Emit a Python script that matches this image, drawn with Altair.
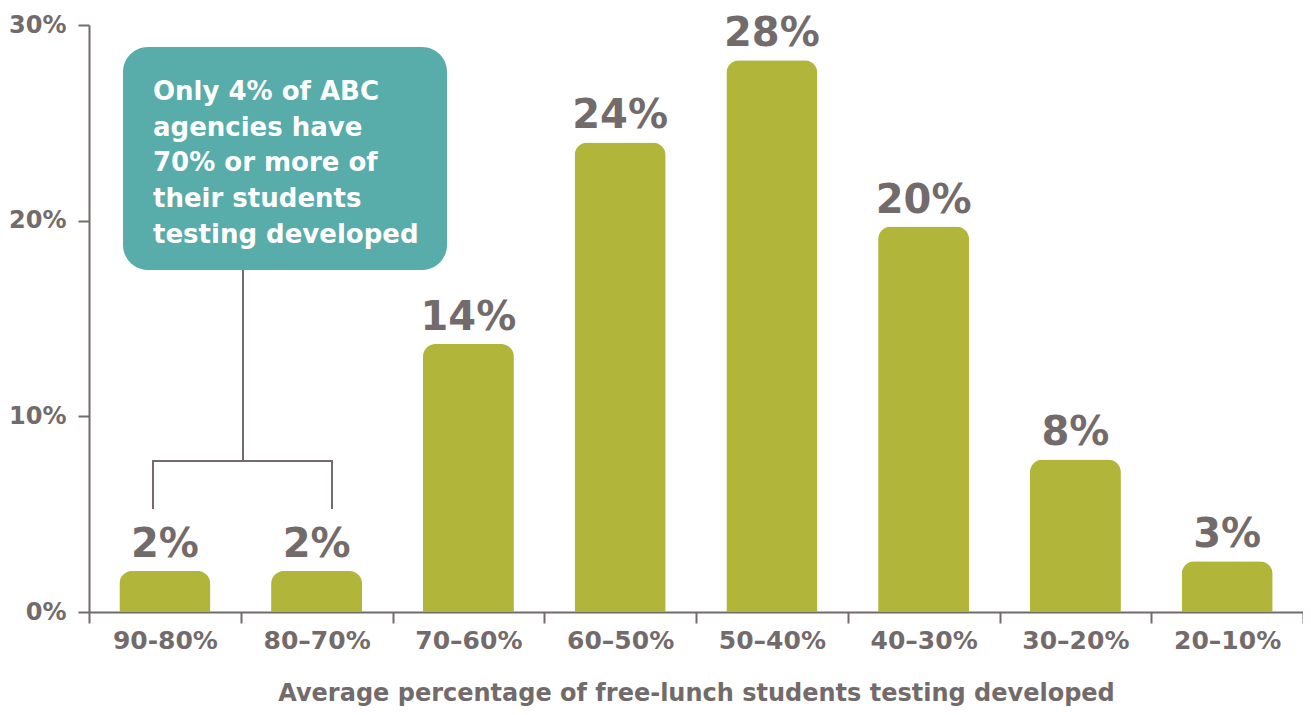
import altair as alt
import pandas as pd

categories = ["90-80%", "80–70%", "70–60%", "60–50%", "50–40%", "40–30%", "30–20%", "20–10%"]
values = [2.1, 2.1, 13.7, 24.0, 28.2, 19.7, 7.8, 2.6]
labels = ["2%", "2%", "14%", "24%", "28%", "20%", "8%", "3%"]
y_ticks = [0, 10, 20, 30]
note_lines = ["Only 4% of ABC", "agencies have", "70% or more of", "their students", "testing developed"]
x_title = "Average percentage of free-lunch students testing developed"

GRAY = "#736b6b"
OLIVE = "#b1b53a"
TEAL = "#58aca9"
FONT = "DejaVu Sans"

df = pd.DataFrame({"cat": categories, "val": values, "lab": labels})

x_enc = alt.X(
    "cat:N",
    sort=categories,
    scale=alt.Scale(paddingInner=0, paddingOuter=0),
    axis=alt.Axis(
        title=x_title,
        labelAngle=0,
        tickBand="extent",
        tickSize=11,
        tickWidth=2,
        tickColor=GRAY,
        domainColor=GRAY,
        domainWidth=2,
        labelFont=FONT,
        labelFontSize=25,
        labelFontWeight="bold",
        labelColor=GRAY,
        labelPadding=5,
        titleFont=FONT,
        titleFontSize=24,
        titleFontWeight="bold",
        titleColor=GRAY,
        titlePadding=28,
    ),
)
y_enc = alt.Y(
    "val:Q",
    scale=alt.Scale(domain=[0, 30], nice=False),
    axis=alt.Axis(
        title=None,
        values=y_ticks,
        labelExpr="datum.value + '%'",
        grid=False,
        tickSize=11,
        tickWidth=2,
        tickColor=GRAY,
        domainColor=GRAY,
        domainWidth=2,
        labelFont=FONT,
        labelFontSize=24,
        labelFontWeight="bold",
        labelColor=GRAY,
        labelPadding=12,
    ),
)

base = alt.Chart(df)
bars = base.mark_bar(
    color=OLIVE,
    width=alt.RelativeBandSize(0.6),
    cornerRadiusTopLeft=13,
    cornerRadiusTopRight=13,
).encode(x=x_enc, y=y_enc)

texts = base.mark_text(
    baseline="alphabetic",
    dy=-14,
    font=FONT,
    fontSize=40,
    fontWeight="bold",
    color=GRAY,
).encode(x=alt.X("cat:N", sort=categories), y=alt.Y("val:Q"), text="lab:N")

one = alt.Data(values=[{"k": 1}])

box = alt.Chart(one).mark_rect(color=TEAL, cornerRadius=25).encode(
    x=alt.value(34), x2=alt.value(358), y=alt.value(22), y2=alt.value(245)
)
note = alt.Chart(one).mark_text(
    align="left",
    baseline="alphabetic",
    font=FONT,
    fontSize=26,
    fontWeight="bold",
    color="white",
    lineHeight=35.7,
    text=note_lines,
).encode(x=alt.value(64), y=alt.value(75))

rule_kw = dict(color=GRAY, strokeWidth=2)
stem = alt.Chart(one).mark_rule(**rule_kw).encode(x=alt.value(154), y=alt.value(245), y2=alt.value(436))
bracket = alt.Chart(one).mark_rule(**rule_kw).encode(x=alt.value(63), x2=alt.value(244), y=alt.value(436))
leg1 = alt.Chart(one).mark_rule(**rule_kw).encode(x=alt.value(64), y=alt.value(436), y2=alt.value(484))
leg2 = alt.Chart(one).mark_rule(**rule_kw).encode(x=alt.value(243), y=alt.value(436), y2=alt.value(484))

chart = (
    alt.layer(bars, texts, box, note, stem, bracket, leg1, leg2)
    .properties(
        width=1214,
        height=587,
        autosize=alt.AutoSizeParams(type="none"),
        padding={"left": 81, "top": 17, "right": 0, "bottom": 95},
    )
    .configure(background="white")
    .configure_view(stroke=None)
)

chart.save("out.html", embed_options={"renderer": "svg", "actions": False})
